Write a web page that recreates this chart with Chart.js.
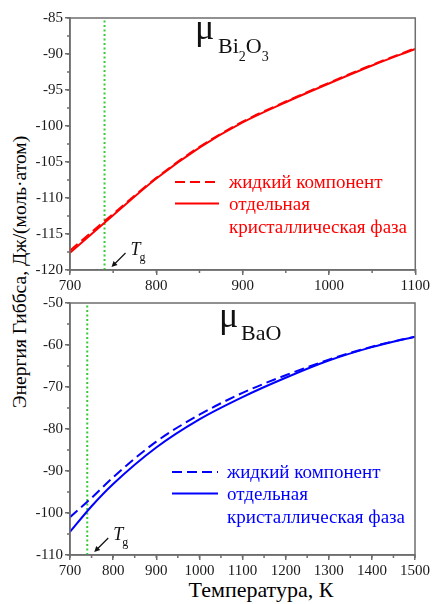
<!DOCTYPE html>
<html>
<head>
<meta charset="utf-8">
<script src="https://cdn.jsdelivr.net/npm/chart.js@4.4.1/dist/chart.umd.min.js"></script>
<style>
  body { margin: 0; background: #fff; width: 432px; height: 604px; position: relative; overflow: hidden; }
  canvas { position: absolute; left: 0; }
  #topChart { top: 0; }
  #bottomChart { top: 290px; }
  .title { position: absolute; font-family: "Liberation Serif", serif; white-space: nowrap; color: #000; text-align: center; }
  #yTitle { width: 340px; height: 20px; line-height: 20px; font-size: 19.5px; left: -150px; top: 262px; transform: rotate(-90deg); }
  #xTitle { width: 200px; height: 22px; line-height: 22px; font-size: 22px; left: 161px; top: 579px; }
</style>
</head>
<body>
<div class="title" id="yTitle">Энергия Гиббса, Дж/(моль·атом)</div>
<div class="title" id="xTitle">Температура, К</div>
<canvas id="topChart" width="432" height="290" style="width:432px;height:290px"></canvas>
<canvas id="bottomChart" width="432" height="314" style="width:432px;height:314px"></canvas>
<script>
// glass transition temperature
const Tg = 740;

// mu Bi2O3
const tempBi = [700, 750, 800, 850, 900, 950, 1000, 1050, 1100];
const bi2o3Liquid = [-117.3, -112.2, -107.2, -102.9, -99.4, -96.6, -94.0, -91.5, -89.2];
const bi2o3Crystal = [-117.6, -112.4, -107.3, -103.0, -99.5, -96.7, -94.1, -91.6, -89.3];

// mu BaO
const tempBa = [700, 750, 800, 900, 1000, 1100, 1200, 1300, 1400, 1500];
const baoLiquid = [-101.0, -96.4, -91.5, -83.0, -76.6, -71.4, -67.2, -63.5, -60.4, -58.0];
const baoCrystal = [-104.5, -98.4, -93.1, -84.4, -77.7, -72.4, -67.8, -63.7, -60.5, -58.0];

const legendLabels = ['жидкий компонент', 'отдельная', 'кристаллическая фаза'];

const axisColor = '#6e6e6e';
const tgColor = '#33cc33';
const serif = '"Liberation Serif", "Times New Roman", serif';

function pts(xs, ys) {
  return xs.map((x, i) => ({ x: x, y: ys[i] }));
}

// frame, minor ticks, mu label, Tg arrow and legend
const decor = {
  id: 'decor',
  afterDraw(chart, args, o) {
    const ctx = chart.ctx;
    const a = chart.chartArea;
    const x = chart.scales.x, y = chart.scales.y;
    ctx.save();
    ctx.strokeStyle = axisColor;
    ctx.lineWidth = 1.5;
    ctx.strokeRect(a.left, a.top, a.right - a.left, a.bottom - a.top);

    // minor ticks
    ctx.beginPath();
    for (let v = x.min; v <= x.max; v += o.minorX) {
      const px = x.getPixelForValue(v);
      ctx.moveTo(px, a.bottom);
      ctx.lineTo(px, a.bottom + 3);
    }
    for (let v = y.min; v <= y.max; v += o.minorY) {
      const py = y.getPixelForValue(v);
      ctx.moveTo(a.left, py);
      ctx.lineTo(a.left - 3, py);
    }
    ctx.stroke();

    // mu label
    ctx.fillStyle = '#111';
    ctx.textBaseline = 'alphabetic';
    ctx.font = '36px ' + serif;
    ctx.fillText('μ', o.mu.x, o.mu.y);
    let cx = o.mu.subX;
    o.mu.parts.forEach(p => {
      ctx.font = (p.small ? 14 : 22) + 'px ' + serif;
      const by = p.small ? o.mu.subY + 8 : o.mu.subY;
      ctx.fillText(p.t, cx, by);
      cx += ctx.measureText(p.t).width;
    });

    // Tg arrow
    const xt = x.getPixelForValue(Tg);
    const b = a.bottom;
    ctx.strokeStyle = '#111';
    ctx.lineWidth = 1.2;
    ctx.beginPath();
    ctx.moveTo(xt + 21, b - 17);
    ctx.lineTo(xt + 9, b - 5);
    ctx.stroke();
    ctx.beginPath();
    ctx.moveTo(xt + 7, b - 3);
    ctx.lineTo(xt + 9, b - 9);
    ctx.lineTo(xt + 13, b - 5);
    ctx.closePath();
    ctx.fillStyle = '#111';
    ctx.fill();
    ctx.font = 'italic 18px ' + serif;
    ctx.fillText('T', xt + 26, b - 15);
    ctx.font = '12px ' + serif;
    ctx.fillText('g', xt + 35, b - 9);

    // legend
    const L = o.legend;
    ctx.strokeStyle = o.color;
    ctx.fillStyle = o.color;
    ctx.lineWidth = 2;
    ctx.beginPath();
    ctx.setLineDash([10, 5]);
    ctx.moveTo(L.x0, L.y);
    ctx.lineTo(L.x1, L.y);
    ctx.stroke();
    ctx.setLineDash([]);
    ctx.beginPath();
    ctx.moveTo(L.x0, L.y + 21.5);
    ctx.lineTo(L.x1, L.y + 21.5);
    ctx.stroke();
    ctx.font = '19px ' + serif;
    legendLabels.forEach((t, i) => {
      ctx.fillText(t, L.tx, L.y + 5.5 + i * 22.5);
    });
    ctx.restore();
  }
};

function buildChart(id, c) {
  return new Chart(document.getElementById(id), {
    type: 'line',
    data: {
      datasets: [
        { data: pts(c.temps, c.liquid), borderColor: c.color, borderDash: [10, 5], borderWidth: 2,
          pointRadius: 0, cubicInterpolationMode: 'monotone' },
        { data: pts(c.temps, c.crystal), borderColor: c.color, borderWidth: 2,
          pointRadius: 0, cubicInterpolationMode: 'monotone' },
        { data: [{ x: Tg, y: c.yMin }, { x: Tg, y: c.yMax }], borderColor: tgColor, borderDash: [2, 2.5],
          borderWidth: 2, pointRadius: 0 }
      ]
    },
    options: {
      responsive: false,
      animation: false,
      layout: { padding: c.padding },
      plugins: {
        legend: { display: false },
        tooltip: { enabled: false },
        decor: c.decor
      },
      scales: {
        x: {
          type: 'linear', min: c.xMin, max: c.xMax,
          ticks: { stepSize: 100, font: { family: serif, size: 15 }, color: '#1a1a1a', padding: 2, maxRotation: 0, autoSkip: false,
                   callback: v => String(v) },
          grid: { drawOnChartArea: false, tickLength: 5, color: axisColor, lineWidth: 1.5 },
          border: { color: axisColor, width: 1.5 },
          afterFit: s => { s.height = c.xHeight; }
        },
        y: {
          type: 'linear', min: c.yMin, max: c.yMax,
          ticks: { stepSize: c.yStep, font: { family: serif, size: 15 }, color: '#1a1a1a', padding: 2,
                   callback: v => String(v) },
          grid: { drawOnChartArea: false, tickLength: 5, color: axisColor, lineWidth: 1.5 },
          border: { color: axisColor, width: 1.5 },
          afterFit: s => { s.width = 70; }
        }
      }
    },
    plugins: [decor]
  });
}

function drawAll() {
  buildChart('topChart', {
    temps: tempBi, liquid: bi2o3Liquid, crystal: bi2o3Crystal, color: '#ff0000',
    xMin: 700, xMax: 1100, yMin: -120, yMax: -85, yStep: 5, xHeight: 20,
    padding: { left: 0, right: 16, top: 18, bottom: 0 },
    decor: {
      color: '#ff0000', minorX: 50, minorY: 2.5,
      mu: { x: 195, y: 39, subX: 218, subY: 53, parts: [{ t: 'Bi' }, { t: '2', small: true }, { t: 'O' }, { t: '3', small: true }] },
      legend: { x0: 175, x1: 219, y: 182, tx: 229 }
    }
  });

  buildChart('bottomChart', {
    temps: tempBa, liquid: baoLiquid, crystal: baoCrystal, color: '#0000ff',
    xMin: 700, xMax: 1500, yMin: -110, yMax: -50, yStep: 10, xHeight: 49,
    padding: { left: 0, right: 16, top: 13, bottom: 0 },
    decor: {
      color: '#0000ff', minorX: 50, minorY: 5,
      mu: { x: 219, y: 37, subX: 241, subY: 50, parts: [{ t: 'BaO' }] },
      legend: { x0: 172, x1: 218, y: 182, tx: 227 }
    }
  });
}

Promise.all([
  document.fonts.load('14px "Liberation Serif"', 'жидкий 0123'),
  document.fonts.load('italic 18px "Liberation Serif"', 'T')
]).then(drawAll, drawAll);
</script>
</body>
</html>
